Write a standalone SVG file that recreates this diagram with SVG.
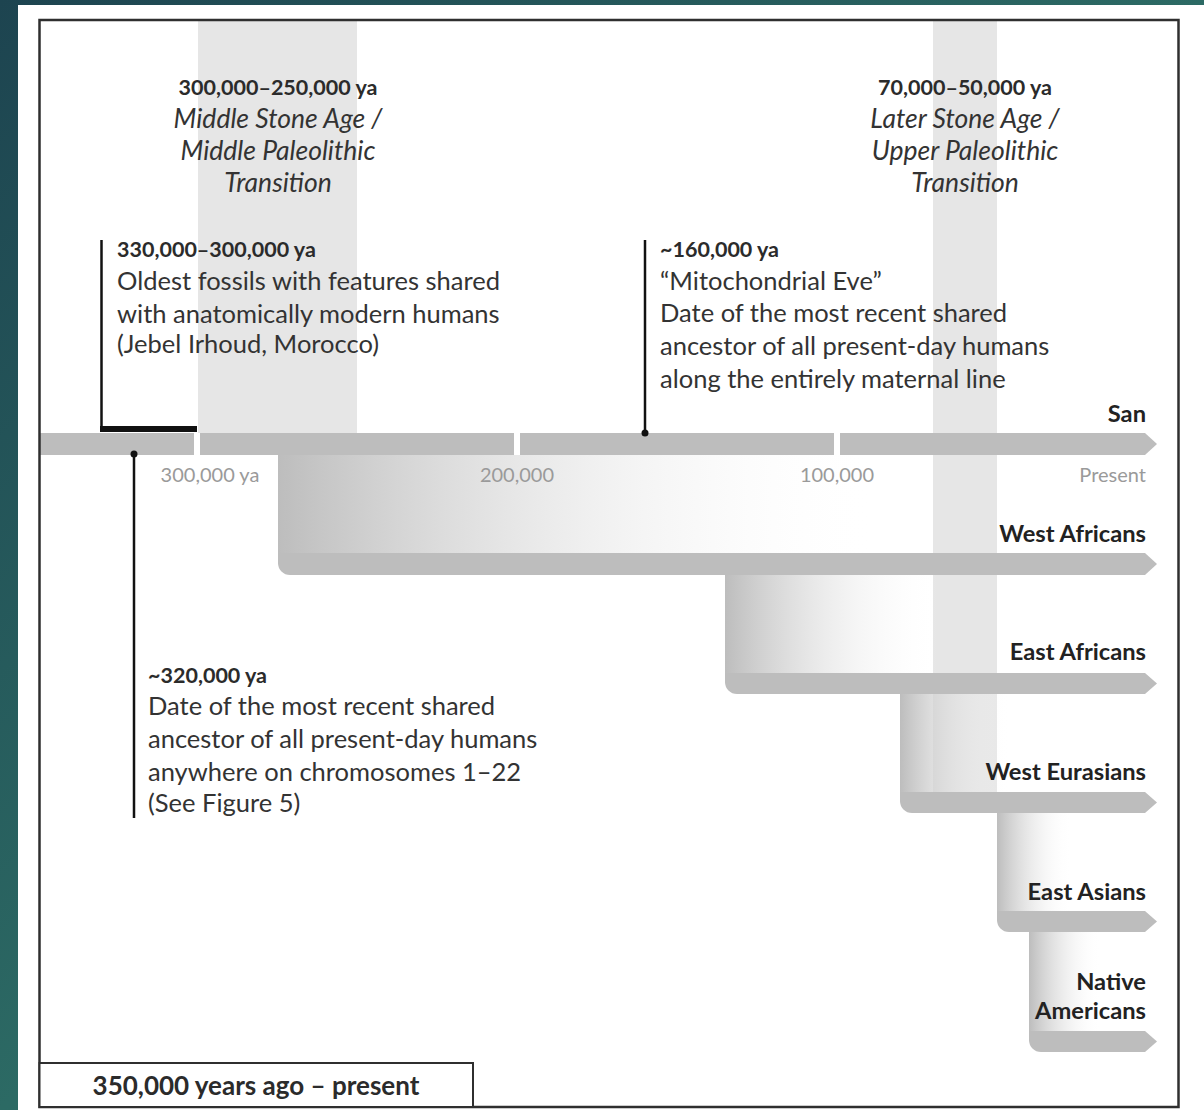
<svg xmlns="http://www.w3.org/2000/svg" width="1204" height="1110" viewBox="0 0 1204 1110">
<style>
  text { font-family: "Lato", "Liberation Sans", sans-serif; fill: #2b2b2b; }
  .hdr { font-weight: bold; font-size: 21.5px; }
  .body { font-size: 25.5px; fill: #333; }
  .ital { font-style: italic; font-size: 26.5px; fill: #333; }
  .tick { font-size: 20px; fill: #9a9a9a; }
  .pop { font-weight: bold; font-size: 23.7px; text-anchor: end; fill: #222; }
  .bar { fill: #bdbdbd; }
  .band { fill: #e6e6e6; }
  .lead { stroke: #111; stroke-width: 2.5; fill: none; }
</style>
<defs>
  <linearGradient id="bg" x1="0" y1="0" x2="1" y2="1">
    <stop offset="0" stop-color="#1d4450"/>
    <stop offset="0.5" stop-color="#2c6a64"/>
    <stop offset="1" stop-color="#327b70"/>
  </linearGradient>
  <linearGradient id="fade" x1="0" y1="0" x2="1" y2="0">
    <stop offset="0" stop-color="#bdbdbd" stop-opacity="1"/>
    <stop offset="1" stop-color="#ffffff" stop-opacity="0"/>
  </linearGradient>
</defs>

<rect x="0" y="0" width="1204" height="1110" fill="url(#bg)"/>
<rect x="18" y="5" width="1186" height="1105" fill="#ffffff"/>

<g id="bands">
  <rect class="band" x="198" y="21" width="159" height="412"/>
  <rect class="band" x="933" y="21" width="64" height="780"/>
</g>

<g id="period-msa">
  <text class="hdr" x="278" y="95" text-anchor="middle">300,000–250,000 ya</text>
  <text class="ital" x="278" y="128" text-anchor="middle">Middle Stone Age /</text>
  <text class="ital" x="278" y="160" text-anchor="middle">Middle Paleolithic</text>
  <text class="ital" x="278" y="192" text-anchor="middle">Transition</text>
</g>
<g id="period-lsa">
  <text class="hdr" x="965" y="95" text-anchor="middle">70,000–50,000 ya</text>
  <text class="ital" x="965" y="128" text-anchor="middle">Later Stone Age /</text>
  <text class="ital" x="965" y="160" text-anchor="middle">Upper Paleolithic</text>
  <text class="ital" x="965" y="192" text-anchor="middle">Transition</text>
</g>

<g id="branches">
  <g id="san">
    <rect class="bar" x="39" y="433" width="155" height="22"/>
    <rect class="bar" x="200" y="433" width="314" height="22"/>
    <rect class="bar" x="520" y="433" width="314" height="22"/>
    <path class="bar" d="M840,433 H1145 L1157,444 L1145,455 H840 Z"/>
    <text class="pop" x="1146" y="422">San</text>
  </g>
  <g id="west-africans">
    <rect x="278" y="455" width="600" height="98" fill="url(#fade)"/>
    <path class="bar" d="M278,553 H1145 L1157,564 L1145,575 H290 A12,12 0 0 1 278,563 Z"/>
    <text class="pop" x="1146" y="542">West Africans</text>
  </g>
  <g id="east-africans">
    <rect x="725" y="575" width="215" height="98" fill="url(#fade)"/>
    <path class="bar" d="M725,673 H1145 L1157,683.5 L1145,694 H737 A12,12 0 0 1 725,682 Z"/>
    <text class="pop" x="1146" y="660">East Africans</text>
  </g>
  <g id="west-eurasians">
    <rect x="900" y="694" width="110" height="98" fill="url(#fade)"/>
    <path class="bar" d="M900,792 H1145 L1157,802.5 L1145,813 H912 A12,12 0 0 1 900,801 Z"/>
    <text class="pop" x="1146" y="780">West Eurasians</text>
  </g>
  <g id="east-asians">
    <rect x="997" y="813" width="75" height="98" fill="url(#fade)"/>
    <path class="bar" d="M997,911 H1145 L1157,921.5 L1145,932 H1009 A12,12 0 0 1 997,920 Z"/>
    <text class="pop" x="1146" y="900">East Asians</text>
  </g>
  <g id="native-americans">
    <rect x="1029" y="932" width="72" height="99" fill="url(#fade)"/>
    <path class="bar" d="M1029,1031 H1145 L1157,1041.5 L1145,1052 H1041 A12,12 0 0 1 1029,1040 Z"/>
    <text class="pop" x="1146" y="990">Native</text>
    <text class="pop" x="1146" y="1019">Americans</text>
  </g>
</g>

<g id="ticks">
  <text class="tick" x="210" y="482" text-anchor="middle">300,000 ya</text>
  <text class="tick" x="517" y="482" text-anchor="middle">200,000</text>
  <text class="tick" x="837" y="482" text-anchor="middle">100,000</text>
  <text class="tick" x="1146" y="482" text-anchor="end">Present</text>
</g>

<g id="connectors">
  <line class="lead" x1="101.5" y1="240" x2="101.5" y2="430" stroke-width="3"/>
  <rect x="100" y="426" width="97" height="6" fill="#111"/>
  <line class="lead" x1="645" y1="240" x2="645" y2="433"/>
  <circle cx="645" cy="433" r="3.5" fill="#111"/>
  <line class="lead" x1="134" y1="454" x2="134" y2="818"/>
  <circle cx="134" cy="454" r="3.5" fill="#111"/>
</g>

<g id="note-fossils">
  <text class="hdr" x="117" y="257">330,000–300,000 ya</text>
  <text class="body" x="117" y="290">Oldest fossils with features shared</text>
  <text class="body" x="117" y="323">with anatomically modern humans</text>
  <text class="body" x="117" y="353">(Jebel Irhoud, Morocco)</text>
</g>
<g id="note-mito">
  <text class="hdr" x="660" y="257">~160,000 ya</text>
  <text class="body" x="660" y="290">“Mitochondrial Eve”</text>
  <text class="body" x="660" y="322">Date of the most recent shared</text>
  <text class="body" x="660" y="355">ancestor of all present-day humans</text>
  <text class="body" x="660" y="388">along the entirely maternal line</text>
</g>
<g id="note-chromo">
  <text class="hdr" x="148" y="683">~320,000 ya</text>
  <text class="body" x="148" y="715">Date of the most recent shared</text>
  <text class="body" x="148" y="748">ancestor of all present-day humans</text>
  <text class="body" x="148" y="781">anywhere on chromosomes 1–22</text>
  <text class="body" x="148" y="812">(See Figure 5)</text>
</g>

<g id="frame">
  <rect x="39.5" y="20" width="1139" height="1087" fill="none" stroke="#2f2f2f" stroke-width="2.5"/>
  <rect x="39.5" y="1063" width="433.5" height="44" fill="#ffffff" stroke="#2f2f2f" stroke-width="2"/>
  <text x="256" y="1095" text-anchor="middle" font-weight="bold" font-size="26">350,000 years ago – present</text>
</g>
</svg>
